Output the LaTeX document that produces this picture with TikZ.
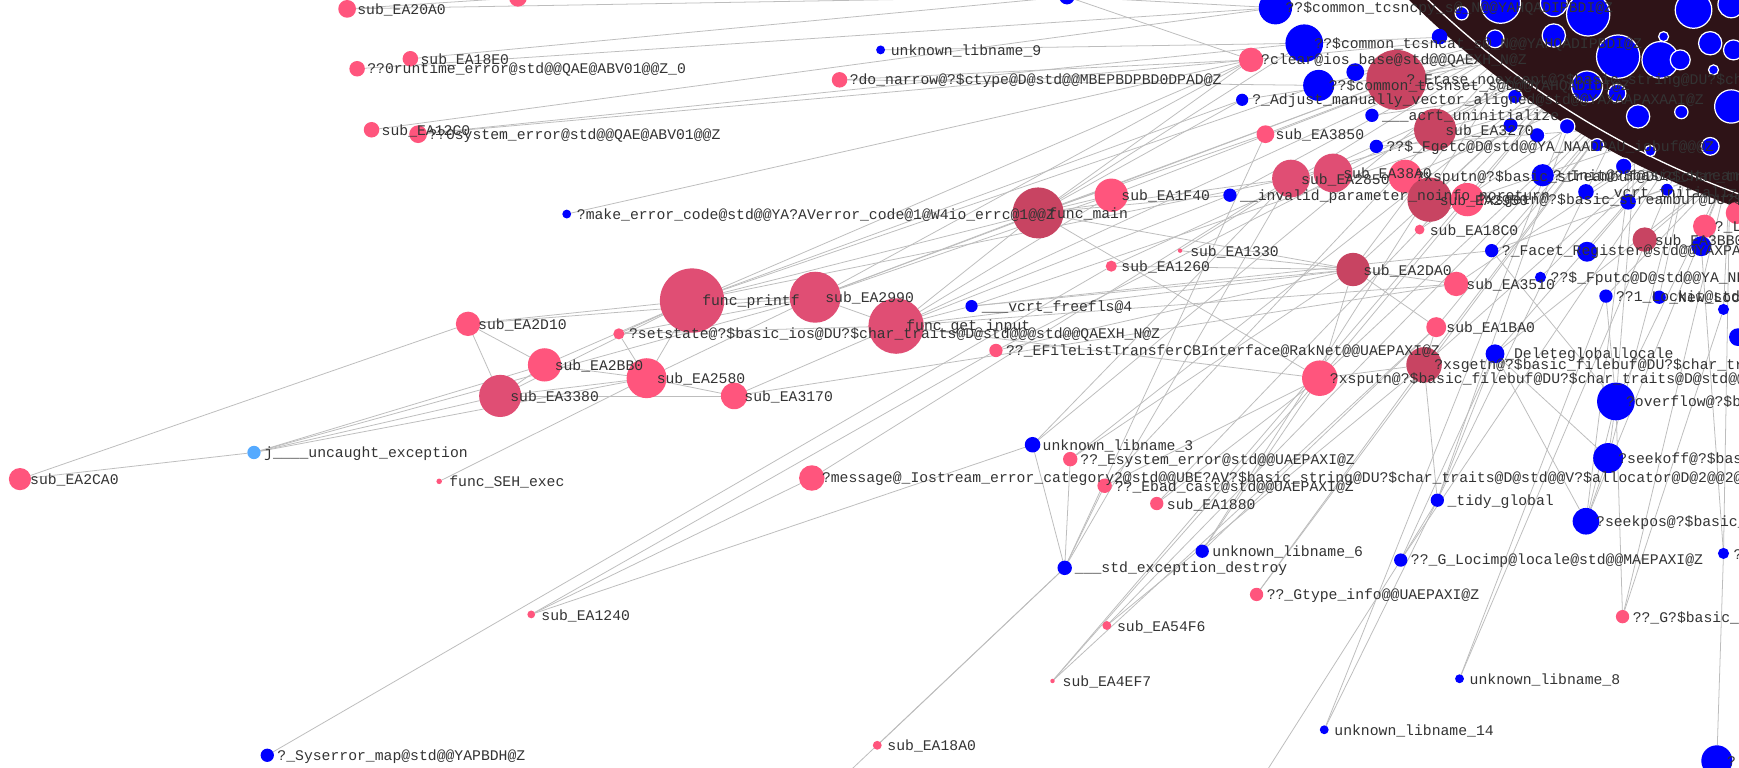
\documentclass[tikz,border=0pt]{standalone}
\usepackage{fontspec}
\newfontfamily\labelfont{Liberation Mono}
\definecolor{pinklight}{HTML}{FF557D}
\definecolor{pinkmid}{HTML}{E04E74}
\definecolor{pinkdark}{HTML}{C84462}
\definecolor{libblue}{HTML}{0000FF}
\definecolor{skyblue}{HTML}{55AAFF}
\definecolor{clustercolor}{HTML}{2E1317}
\definecolor{edgegray}{HTML}{BDBDBD}
\definecolor{labelgray}{HTML}{333333}
\pgfdeclarelayer{edgelayer}
\pgfdeclarelayer{disclayer}
\pgfdeclarelayer{textlayer}
\pgfsetlayers{edgelayer,disclayer,main,textlayer}
\tikzset{
  vertex/.style={circle,inner sep=0pt,outer sep=0pt,draw=none},
  fname/.style={anchor=west,inner sep=0pt,text=labelgray,font=\labelfont\fontsize{13.3}{14}\selectfont},
  link/.style={draw=edgegray,line width=0.7pt}
}
\newcommand{\fnode}[6]{%
  \node[vertex,fill=#5,minimum size=#4*2pt] (#1) at (#2,#3) {};
  \begin{pgfonlayer}{textlayer}
    \node[fname] at (#2+9,#3+1) {\detokenize{#6}};
  \end{pgfonlayer}}
\newcommand{\cnode}[4]{%
  \node[vertex,fill=libblue,draw=white,line width=1.1pt,minimum size=#4*2pt] (#1) at (#2,#3) {};}
\begin{document}
\begin{tikzpicture}[x=1pt,y=-1pt]
 \useasboundingbox (0,0) rectangle (1568,692);
 \begin{pgfonlayer}{edgelayer}
  \fill[white] (0,0) rectangle (1568,692);
 \end{pgfonlayer}
 \begin{pgfonlayer}{disclayer}
  \fill[clustercolor] (1838,-571) circle[radius=805pt];
  \draw[white,line width=1.2pt] (1838,-571) circle[radius=793pt];
 \end{pgfonlayer}
 % left and lower part
 \node[vertex,fill=pinklight,minimum size=16pt] (nTop) at (467,-2) {};
 \node[vertex,fill=libblue,minimum size=14pt] (nTopBlue) at (962,-3) {};
 \fnode{n20A0}{313}{8}{8}{pinklight}{sub_EA20A0}
 \fnode{n18E0}{370}{53}{7}{pinklight}{sub_EA18E0}
 \fnode{nRunErr}{322}{62}{7}{pinklight}{??0runtime_error@std@@QAE@ABV01@@Z_0}
 \fnode{n12C0}{335}{117}{7}{pinklight}{sub_EA12C0}
 \fnode{nSysErr}{377}{121}{8}{pinklight}{??0system_error@std@@QAE@ABV01@@Z}
 \fnode{nLib9}{794}{45}{4}{libblue}{unknown_libname_9}
 \fnode{nNarrow}{757}{72}{7}{pinklight}{?do_narrow@?$ctype@D@std@@MBEPBDPBD0DPAD@Z}
 \fnode{nMkErr}{511}{193}{4}{libblue}{?make_error_code@std@@YA?AVerror_code@1@W4io_errc@1@@Z}
 \fnode{nMain}{936}{192}{23}{pinkdark}{func_main}
 \fnode{n1F40}{1002}{176}{15}{pinklight}{sub_EA1F40}
 \fnode{nInvPar}{1109}{176}{6}{libblue}{__invalid_parameter_noinfo_noreturn}
 \fnode{n1330}{1064}{226}{2}{pinklight}{sub_EA1330}
 \fnode{n1260}{1002}{240}{5}{pinklight}{sub_EA1260}
 \fnode{nPrintf}{624}{271}{29}{pinkmid}{func_printf}
 \fnode{n2990}{735}{268}{23}{pinkmid}{sub_EA2990}
 \fnode{nGetIn}{808}{294}{25}{pinkmid}{func_get_input}
 \fnode{nVcrt}{876}{276}{5.5}{libblue}{___vcrt_freefls@4}
 \fnode{nSetst}{558}{301}{5}{pinklight}{?setstate@?$basic_ios@DU?$char_traits@D@std@@@std@@QAEXH_N@Z}
 \fnode{nFileList}{898}{316}{6}{pinklight}{??_EFileListTransferCBInterface@RakNet@@UAEPAXI@Z}
 \fnode{n2D10}{422}{292}{11}{pinklight}{sub_EA2D10}
 \fnode{n2BB0}{491}{329}{15}{pinklight}{sub_EA2BB0}
 \fnode{n3380}{451}{357}{19}{pinkmid}{sub_EA3380}
 \fnode{n2580}{583}{341}{18}{pinklight}{sub_EA2580}
 \fnode{n3170}{662}{357}{12}{pinklight}{sub_EA3170}
 \fnode{nUncaught}{229}{408}{6}{skyblue}{j____uncaught_exception}
 \fnode{n2CA0}{18}{432}{10}{pinklight}{sub_EA2CA0}
 \fnode{nSEH}{396}{434}{2.5}{pinklight}{func_SEH_exec}
 \fnode{nMessage}{732}{431}{11.5}{pinklight}{?message@_Iostream_error_category2@std@@UBE?AV?$basic_string@DU?$char_traits@D@std@@V?$allocator@D@2@@2@H@Z}
 \fnode{nLib3}{931}{401}{7}{libblue}{unknown_libname_3}
 \fnode{nEsys}{965}{414}{6.5}{pinklight}{??_Esystem_error@std@@UAEPAXI@Z}
 \fnode{nEbad}{996}{438}{6.5}{pinklight}{??_Ebad_cast@std@@UAEPAXI@Z}
 \fnode{n1880}{1043}{454}{6}{pinklight}{sub_EA1880}
 \fnode{nLib6}{1084}{497}{6}{libblue}{unknown_libname_6}
 \fnode{nStdExc}{960}{512}{6.5}{libblue}{___std_exception_destroy}
 \fnode{nGtype}{1133}{536}{6}{pinklight}{??_Gtype_info@@UAEPAXI@Z}
 \fnode{n54F6}{998}{564}{4}{pinklight}{sub_EA54F6}
 \fnode{n4EF7}{949}{614}{2}{pinklight}{sub_EA4EF7}
 \fnode{n1240}{479}{554}{3.5}{pinklight}{sub_EA1240}
 \fnode{n18A0}{791}{672}{4}{pinklight}{sub_EA18A0}
 \fnode{nSyserr}{241}{681}{6}{libblue}{?_Syserror_map@std@@YAPBDH@Z}
 \fnode{nLib8}{1316}{612}{4}{libblue}{unknown_libname_8}
 \fnode{nLib14}{1194}{658}{4}{libblue}{unknown_libname_14}
 \fnode{nLocimp}{1263}{505}{6}{libblue}{??_G_Locimp@locale@std@@MAEPAXI@Z}
 \fnode{nGbasic}{1463}{556}{6}{pinklight}{??_G?$basic_filebuf@DU?$char_traits@D@std@@@std@@UAEPAXI@Z}
 \fnode{nTidy}{1296}{451}{6}{libblue}{_tidy_global}
 \fnode{nSeekpos}{1430}{470}{12}{libblue}{?seekpos@?$basic_filebuf@DU?$char_traits@D@std@@@std@@}
 \fnode{nSeekoff}{1450}{413}{13.5}{libblue}{?seekoff@?$basic_filebuf@DU?$char_traits@D@std@@@std@@}
 \fnode{nOverflow}{1457}{362}{17}{libblue}{?overflow@?$basic_filebuf@DU?$char_traits@D@std@@@std@@}
 \fnode{nBR}{1548}{686}{14}{libblue}{?}
 \fnode{nR500}{1554}{499}{5}{libblue}{?}
 \fnode{nDelete}{1348}{319}{8.5}{libblue}{_Deletegloballocale}
 \fnode{nXsgetn}{1284}{329}{16}{pinkdark}{?xsgetn@?$basic_filebuf@DU?$char_traits@D@std@@@std@@MAEHPADH@Z}
 \fnode{nXsputn}{1190}{341}{16}{pinklight}{?xsputn@?$basic_filebuf@DU?$char_traits@D@std@@@std@@MAEHPBDH@Z}
 \fnode{n1BA0}{1295}{295}{9}{pinklight}{sub_EA1BA0}
 \fnode{n2DA0}{1220}{243}{15}{pinkdark}{sub_EA2DA0}
 \fnode{n3510}{1313}{256}{11}{pinklight}{sub_EA3510}
 \fnode{nFputc}{1389}{250}{5}{libblue}{??$_Fputc@D@std@@YA_NDPAU_iobuf@@@Z}
 \fnode{nLockit}{1448}{267}{6}{libblue}{??1_Lockit@std@@QAE@XZ}
 \fnode{nNewLo}{1496}{268}{6}{libblue}{_New_Locimp}
 \fnode{nB279}{1554}{279}{5}{libblue}{}
 \fnode{nFacet}{1345}{226}{6}{libblue}{?_Facet_Register@std@@YAXPAV_Facet_base@1@@Z}
 \fnode{nB1432}{1431}{227}{9}{libblue}{}
 \fnode{n3BB0}{1483}{216}{11}{pinkdark}{sub_EA3BB0}
 \fnode{nL}{1537}{204}{10.5}{pinklight}{?_Lock}
 \fnode{nB1534}{1534}{222}{9}{libblue}{}
 \fnode{n18C0}{1280}{207}{4.4}{pinklight}{sub_EA18C0}
 \fnode{nPinkEdge}{1566}{192}{10}{pinklight}{}
 \fnode{nBEdge}{1567}{304}{8}{libblue}{}
 % upper right, next to the cluster
 \fnode{nTcsncpy}{1150}{7}{15}{libblue}{??$common_tcsncpy_s@_N@@YAHQADIPBDI@Z}
 \fnode{nTcsncat}{1176}{39}{17}{libblue}{??$common_tcsncat_s@_N@@YAHQADIPBDI@Z}
 \fnode{nClear}{1128}{54}{11}{pinklight}{?clear@ios_base@std@@QAEXH_N@Z}
 \fnode{nTcsnc}{1189}{77}{14}{libblue}{??$common_tcsnset_s@D@@YAHQADIDI@Z}
 \fnode{nB1222}{1222}{65}{8}{libblue}{}
 \fnode{nErase}{1259}{72}{27}{pinkdark}{?_Erase_noexcept@?$basic_string@DU?$char_traits@D@std@@V?$allocator@D@2@@std@@QAEAAV12@II@Z}
 \fnode{nB1298}{1298}{33}{7}{libblue}{}
 \fnode{nAdjust}{1120}{90}{5.5}{libblue}{?_Adjust_manually_vector_aligned@std@@YAXAAPAXAAI@Z}
 \fnode{nAcrt}{1237}{104}{6}{libblue}{___acrt_uninitialize}
 \fnode{n3270}{1294}{117}{19}{pinkdark}{sub_EA3270}
 \fnode{n3850}{1141}{121}{8}{pinklight}{sub_EA3850}
 \fnode{nFgetc}{1241}{132}{6}{libblue}{??$_Fgetc@D@std@@YA_NAADPAU_iobuf@@@Z}
 \fnode{n2850}{1164}{161}{17}{pinkmid}{sub_EA2850}
 \fnode{n38A0}{1202}{156}{17.5}{pinkmid}{sub_EA38A0}
 \fnode{nSputn}{1267}{159}{15}{pinklight}{?xsputn@?$basic_streambuf@DU?$char_traits@D@std@@@std@@MAEHPBDH@Z}
 \fnode{n2950}{1289}{180}{20}{pinkdark}{sub_EA2950}
 \fnode{nSgetn}{1323}{180}{15}{pinklight}{?xsgetn@?$basic_streambuf@DU?$char_traits@D@std@@@std@@MAEHPADH@Z}
 \fnode{nInit}{1391}{158}{10}{libblue}{?_Init@?$basic_streambuf@DU?$char_traits@D@std@@@std@@IAEXXZ}
 \fnode{nVcrtInit}{1430}{173}{7}{libblue}{__vcrt_initialize}
 \fnode{nB1468}{1468}{182}{7}{libblue}{}
 % nodes of the cluster
 \cnode{a1}{1353}{3}{18}  \cnode{a2}{1401}{3}{12}   \cnode{a3}{1432}{13}{19.5}
 \cnode{a4}{1401}{32}{10.5} \cnode{a5}{1348}{35}{8} \cnode{a6}{1459}{51}{19.5}
 \cnode{a7}{1497}{54}{16.5} \cnode{a8}{1515}{54}{9} \cnode{a9}{1431}{78}{14}
 \cnode{a10}{1458}{84}{8}  \cnode{a11}{1477}{105}{10.5} \cnode{a12}{1516}{101}{6}
 \cnode{a13}{1500}{33}{4.5} \cnode{a14}{1542}{39}{10.5} \cnode{a15}{1563}{45}{9}
 \cnode{a16}{1545}{63}{4.5} \cnode{a17}{1561}{96}{15} \cnode{a18}{1527}{9}{16.5}
 \cnode{a19}{1561}{4}{12}  \cnode{a20}{1440}{131}{6} \cnode{a21}{1464}{150}{7.5}
 \cnode{a22}{1503}{171}{6} \cnode{a23}{1366}{87}{6.6} \cnode{a24}{1413}{114}{7}
 \cnode{a25}{1362}{113}{7} \cnode{a26}{1386}{122}{7} \cnode{a27}{1318}{12}{6}
 \cnode{a28}{1542}{132}{8} \cnode{a29}{1488}{136}{5}
 \coordinate (hA) at (1480,70);
 \coordinate (hB) at (1530,110);
 \coordinate (hC) at (1440,40);
 \coordinate (hD) at (1560,150);
 \coordinate (hE) at (1380,30);
 \coordinate (offA) at (740,720);
 \coordinate (offB) at (1120,730);
 \begin{pgfonlayer}{edgelayer}
  \foreach \a/\b in {n20A0/nTop,nTop/nTopBlue,n20A0/nTopBlue,n18E0/nTopBlue,nRunErr/nTcsncpy,
    n12C0/nTcsncpy,nSysErr/nTcsncat,nSysErr/nClear,nLib9/nTcsncat,nNarrow/nClear,nNarrow/nTcsnc,
    nMkErr/nClear,nTopBlue/nClear,nTopBlue/nTcsncpy,
    nMain/n1F40,nMain/nClear,nMain/nAdjust,nMain/n3850,nMain/n2850,nMain/nErase,nMain/nTcsncat,
    nMain/nPrintf,nMain/n2990,nMain/nGetIn,nMain/n2DA0,nMain/nXsputn,nMain/nInvPar,
    nPrintf/n2990,nPrintf/nClear,nPrintf/nAdjust,nPrintf/nTcsnc,nPrintf/n2850,nPrintf/n2580,
    nPrintf/n2BB0,nPrintf/n3380,nPrintf/nSetst,nPrintf/n2D10,
    n2990/nGetIn,n2990/n1F40,n2990/nErase,n2990/nClear,n2990/nSetst,n2990/n2580,n2990/n2D10,
    nGetIn/n1F40,nGetIn/n2DA0,nGetIn/nInvPar,nGetIn/nXsputn,nGetIn/n3510,nGetIn/nVcrt,
    nGetIn/n3170,nGetIn/nSetst,
    n2CA0/n2D10,n2CA0/nUncaught,nUncaught/n2BB0,nUncaught/n3380,nUncaught/n2580,nUncaught/n2990,
    n2D10/n2BB0,n2D10/n3380,n2BB0/n3380,n2BB0/n2580,n3380/n3170,n3380/n2580,n2580/n3170,
    n2580/nSetst,nSEH/n2580,n3170/n3510,
    nMessage/n2850,nMessage/n1240,n1240/nFileList,n1240/nLib3,nSyserr/n1260,
    nStdExc/nLib3,nStdExc/nEsys,nStdExc/nEbad,nStdExc/n18A0,nStdExc/offA,nStdExc/n2850,
    nStdExc/n3850,n4EF7/nXsputn,n4EF7/n1BA0,n54F6/nXsgetn,nLib6/n1BA0,nLib6/nXsputn,
    nGtype/nXsgetn,n1880/nXsputn,nEsys/n2DA0,nEbad/nXsputn,nLib3/n2850,
    nLocimp/nTidy,nLocimp/offB,nLocimp/nDelete,nTidy/nLib14,nTidy/nXsgetn,nTidy/nDelete,
    nLib8/nLockit,nGbasic/nOverflow,nGbasic/nB279,nR500/nBR,nR500/nB1534,
    nSeekpos/nSeekoff,nSeekoff/nOverflow,nSeekpos/nOverflow,nSeekpos/nDelete,nSeekoff/nDelete,
    nOverflow/nFacet,nOverflow/nLockit,nXsgetn/nXsputn,nXsgetn/n1BA0,n1BA0/n2DA0,n3510/n2DA0,
    nXsputn/n2DA0,n2DA0/nVcrt,n2DA0/n1260,n2DA0/nFileList,n2DA0/n1330,nVcrt/nFacet,
    nXsputn/hA,nXsputn/hC,nXsgetn/hB,nXsgetn/hA,n1BA0/hA,n2DA0/hC,n2DA0/hE,n3510/hB,
    nDelete/hD,nDelete/hB,nOverflow/hD,nOverflow/hA,nSeekoff/hB,nSeekpos/hA,nSeekpos/hD,
    nTidy/hC,nTidy/hA,nLocimp/hB,nLib6/hE,nGtype/hA,n1880/hC,nEbad/hE,nEsys/hC,nLib3/hE,
    nFacet/hA,nFacet/hD,nFputc/hB,nLockit/hD,n18C0/hA,n1330/hE,n1260/hC,nInvPar/hE,
    nGetIn/hE,n1F40/hE,n2850/hA,n38A0/hC,nFileList/hC,nVcrt/hA,n3850/hE,nClear/hE,
    nAdjust/hC,nAcrt/hA,nFgetc/hB,n3270/hA,nErase/hC,nB279/hD,nNewLo/hB,n3BB0/hD,nL/hD,
    nB1432/hB,nSputn/hA,nSgetn/hB,n2950/hC,nInit/hD,nVcrtInit/hB,nB1468/hD,nR500/hD,
    nGbasic/hD,nLib8/hB,nLib14/hC,n54F6/hA,n4EF7/hC,nTcsnc/hE,nTcsncat/hE,nB1222/hC}
   \draw[link] (\a) -- (\b);
 \end{pgfonlayer}
\end{tikzpicture}
\end{document}
